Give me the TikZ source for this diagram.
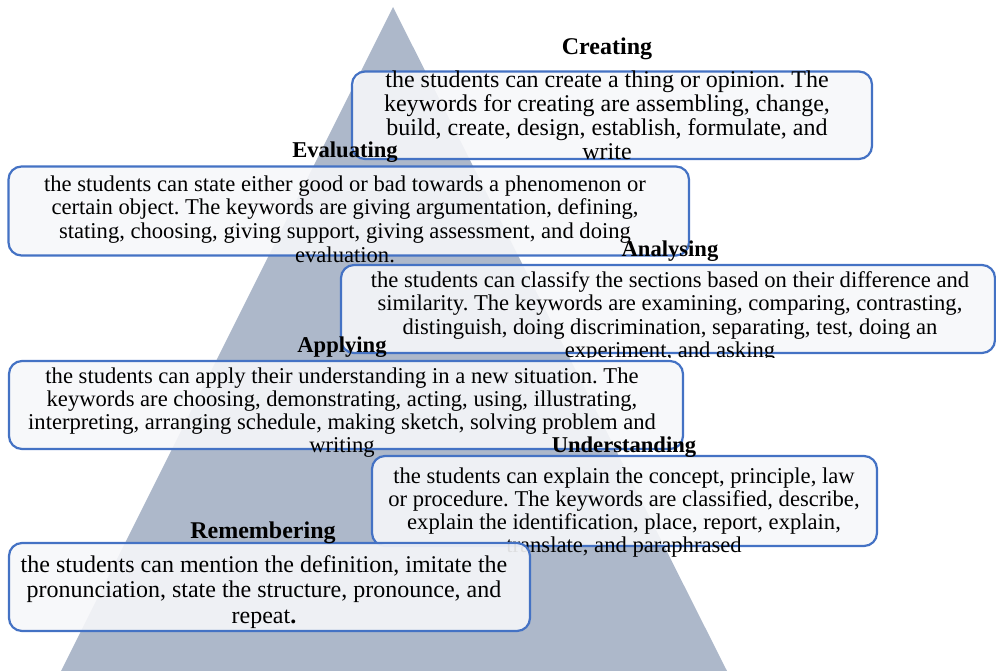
\documentclass[tikz,border=0pt]{standalone}
\usepackage{fontspec}
\setmainfont{Liberation Serif}
\definecolor{pyr}{HTML}{ADB8CA}
\definecolor{boxblue}{HTML}{4472C4}
\definecolor{boxfill}{HTML}{F6F7F9}
\newcommand{\firstln}{\rule{0pt}{17pt}}
\newcommand{\txtbig}{\fontsize{24}{24}\selectfont\lineskiplimit=-100pt\relax\frenchspacing}
\newcommand{\txtrem}{\fontsize{24}{25.5}\selectfont\lineskiplimit=-100pt\relax\frenchspacing}
\newcommand{\txtsmall}{\fontsize{22.6}{23.2}\selectfont\lineskiplimit=-100pt\relax\frenchspacing}
\newcommand{\txteval}{\fontsize{22.6}{23.6}\selectfont\lineskiplimit=-100pt\relax\frenchspacing}
\begin{document}
\begin{tikzpicture}[x=1pt,y=-1pt,
  box/.style={draw=boxblue, line width=2.2pt, rounded corners=13pt, fill=boxfill, fill opacity=0.9, inner sep=0pt, outer sep=0pt},
  txt/.style={align=center, inner sep=0pt, anchor=north, font=\txtsmall},
  txte/.style={align=center, inner sep=0pt, anchor=north, font=\txteval},
  txta/.style={align=center, inner sep=0pt, anchor=north, font=\txtbig},
  txtb/.style={align=center, inner sep=0pt, anchor=north, font=\txtrem},
  ttl/.style={inner sep=0pt, anchor=base, font=\fontsize{22.6}{24}\selectfont\bfseries},
  ttlb/.style={inner sep=0pt, anchor=base, font=\fontsize{24}{24}\selectfont\bfseries}]
\useasboundingbox (0,0) rectangle (996,671);
% pyramid
\fill[pyr] (393,7) -- (727,671) -- (61,671) -- cycle;
% Creating
\node[box, minimum width=520pt, minimum height=87.5pt] (b1) at (612,115.25) {};
\node[txta] (t1) at (607,70) {\firstln the students can create a thing or opinion. The\\keywords for creating are assembling, change,\\build, create, design, establish, formulate, and\\write};
% Evaluating
\node[box, minimum width=680.5pt, minimum height=89pt] (b2) at (348.75,211) {};
\node[txte] (t2) at (345,174) {\firstln the students can state either good or bad towards a phenomenon or\\certain object. The keywords are giving argumentation, defining,\\stating, choosing, giving support, giving assessment, and doing\\evaluation.};
% Analysing
\node[box, minimum width=654pt, minimum height=88pt] (b3) at (668,309) {};
\begin{scope}
\clip (330,255) rectangle (996,357);
\node[txt] (t3) at (670,270.5) {\firstln the students can classify the sections based on their difference and\\similarity. The keywords are examining, comparing, contrasting,\\distinguish, doing discrimination, separating, test, doing an\\experiment, and asking};
\end{scope}
% Applying
\node[box, minimum width=674pt, minimum height=88pt] (b4) at (346,405) {};
\node[txt] (t4) at (342,366) {\firstln the students can apply their understanding in a new situation. The\\keywords are choosing, demonstrating, acting, using, illustrating,\\interpreting, arranging schedule, making sketch, solving problem and\\writing};
% Understanding
\node[box, minimum width=505pt, minimum height=90pt] (b5) at (624.5,501) {};
\node[txt] (t5) at (624,466) {\firstln the students can explain the concept, principle, law\\or procedure. The keywords are classified, describe,\\explain the identification, place, report, explain,\\translate, and paraphrased};
% Remembering
\node[box, minimum width=521pt, minimum height=88pt] (b6) at (269.5,587) {};
\node[txtb] (t6) at (264,555) {\firstln the students can mention the definition, imitate the\\pronunciation, state the structure, pronounce, and\\repeat\textbf{.}};
% titles
\node[ttlb] (h1) at (607,55) {Creating};
\node[ttl] (h2) at (345,157.5) {Evaluating};
\node[ttl] (h3) at (670,256) {Analysing};
\node[ttl] (h4) at (342,352) {Applying};
\node[ttl] (h5) at (624,452) {Understanding};
\node[ttlb] (h6) at (263,538) {Remembering};
\end{tikzpicture}
\end{document}
